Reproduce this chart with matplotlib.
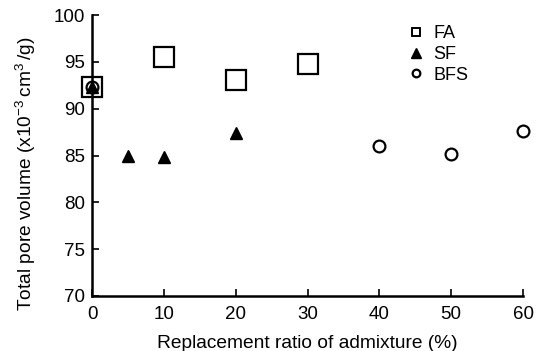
import matplotlib
matplotlib.use("Agg")
import matplotlib.pyplot as plt

plt.rcParams['font.family'] = ['Liberation Sans', 'DejaVu Sans']
plt.rcParams['mathtext.fontset'] = 'custom'
plt.rcParams['mathtext.rm'] = 'Liberation Sans'

fa_x = [0, 10, 20, 30]
fa_y = [92.3, 95.5, 93.1, 94.8]
sf_x = [0, 5, 10, 20]
sf_y = [92.3, 85.0, 84.8, 87.4]
bfs_x = [0, 40, 50, 60]
bfs_y = [92.3, 86.0, 85.2, 87.6]

x_ticks = [0, 10, 20, 30, 40, 50, 60]
y_ticks = [70, 75, 80, 85, 90, 95, 100]

fig = plt.figure(figsize=(5.38, 3.51), dpi=100)
ax = fig.add_axes([92/538, 1 - 296/351, (523 - 92)/538, (296 - 15)/351])

ax.plot(fa_x, fa_y, linestyle='none', marker='s', markersize=14, markerfacecolor='white',
        markeredgecolor='black', markeredgewidth=1.6, label='FA', zorder=2)
ax.plot(sf_x, sf_y, linestyle='none', marker='^', markersize=8.5, color='black',
        label='SF', zorder=4)
ax.plot(bfs_x, bfs_y, linestyle='none', marker='o', markersize=8.5, markerfacecolor='white',
        markeredgecolor='black', markeredgewidth=1.6, label='BFS', zorder=3)

ax.set_xlim(0, 60)
ax.set_ylim(70, 100)
ax.set_xticks(x_ticks)
ax.set_yticks(y_ticks)
ax.tick_params(direction='in', length=5, width=1.2, labelsize=13.5, pad=5)
ax.tick_params(axis='x', pad=7)
for side in ('top', 'right'):
    ax.spines[side].set_visible(False)
for side in ('left', 'bottom'):
    ax.spines[side].set_linewidth(1.8)
for line in ax.lines:
    line.set_clip_on(False)

ax.set_xlabel('Replacement ratio of admixture (%)', fontsize=13.8, labelpad=9)
ax.set_ylabel(r'Total pore volume (x10$^{-3}\,$cm$^{3}\,$/g)', fontsize=13.8)
ax.yaxis.set_label_coords(-0.126, 0.434)

leg = ax.legend(loc='upper left', bbox_to_anchor=(0.706, 1.008), frameon=False,
                fontsize=13, handlelength=0.8, handletextpad=0.55,
                labelspacing=0.2, borderpad=0.2)
for handle, ms, mew in zip(leg.legend_handles, [6, 7.5, 5.5], [1.4, 1.0, 1.6]):
    handle.set_markersize(ms)
    handle.set_markeredgewidth(mew)

fig.savefig('out.png', dpi=100)
